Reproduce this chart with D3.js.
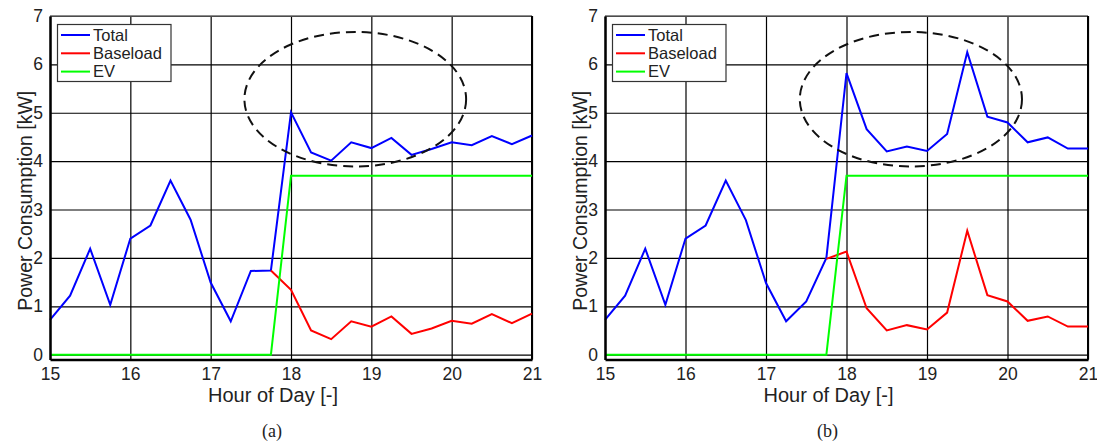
<!DOCTYPE html>
<html>
<head>
<meta charset="utf-8">
<script src="https://cdn.jsdelivr.net/npm/d3@7"></script>
<style>
  body { margin: 0; background: #fff; }
  text { font-family: "Liberation Sans", Arial, sans-serif; fill: #222; }
  .caption { font-family: "Liberation Serif", "Times New Roman", serif; }
</style>
</head>
<body>
<div class="chart"></div>
<script>
// two panels: (a) uncoordinated charging, (b) shifted baseload

var hours = [15, 15.25, 15.5, 15.75, 16, 16.25, 16.5, 16.75, 17, 17.25, 17.5, 17.75,
  18, 18.25, 18.5, 18.75, 19, 19.25, 19.5, 19.75, 20, 20.25, 20.5, 20.75, 21];

// baseload is only plotted from 17.75 on (below that it equals the total)
var baseHours = [17.75, 18, 18.25, 18.5, 18.75, 19, 19.25, 19.5, 19.75, 20, 20.25, 20.5, 20.75, 21];

var totalA = [0.72, 1.22, 2.19, 1.03, 2.40, 2.67, 3.60, 2.79, 1.49, 0.69, 1.73, 1.74,
  5.01, 4.18, 4.01, 4.39, 4.27, 4.48, 4.13, 4.25, 4.39, 4.33, 4.52, 4.35, 4.53];
var baseA = [1.74, 1.34, 0.50, 0.32, 0.69, 0.58, 0.79, 0.43, 0.54, 0.70, 0.64, 0.84, 0.65, 0.85];

var totalB = [0.72, 1.22, 2.19, 1.03, 2.40, 2.67, 3.60, 2.78, 1.48, 0.69, 1.10, 2.00,
  5.82, 4.66, 4.20, 4.30, 4.21, 4.56, 6.25, 4.92, 4.80, 4.39, 4.49, 4.26, 4.26];
var baseB = [1.98, 2.13, 0.96, 0.50, 0.61, 0.52, 0.87, 2.56, 1.23, 1.10, 0.70, 0.79, 0.58, 0.58];

var ev = [0, 0, 0, 0, 0, 0, 0, 0, 0, 0, 0, 0,
  3.7, 3.7, 3.7, 3.7, 3.7, 3.7, 3.7, 3.7, 3.7, 3.7, 3.7, 3.7, 3.7];

var xTicks = [15, 16, 17, 18, 19, 20, 21];
var yTicks = [0, 1, 2, 3, 4, 5, 6, 7];

// dashed ellipse (centre hour, centre kW, half width in hours, half height in kW)
var ellipse = [18.8, 5.28, 1.38, 1.39];

var legendNames = ["Total", "Baseload", "EV"];
var colors = ["#0000ff", "#ff0000", "#00ff00"];

var svgWidth = 1097;
var svgHeight = 441;

var svg = d3.select(".chart")
  .append("svg")
  .attr("width", svgWidth)
  .attr("height", svgHeight);

var plotTop = 16;
var plotBottom = 359.5;

function drawPanel(left, right, total, base, caption) {
  var x = d3.scaleLinear().domain([15, 21]).range([left, right]);
  var y = d3.scaleLinear().domain([-0.1, 7]).range([plotBottom, plotTop]);
  var w = right - left;
  var h = plotBottom - plotTop;

  var g = svg.append("g");

  // grid lines
  g.append("g")
    .attr("transform", `translate(0, ${plotBottom})`)
    .call(d3.axisBottom(x).tickValues(xTicks).tickSize(-h).tickFormat(""))
    .call(a => a.select(".domain").remove())
    .selectAll("line").attr("stroke", "#000").attr("stroke-width", 1.2);

  g.append("g")
    .attr("transform", `translate(${left}, 0)`)
    .call(d3.axisLeft(y).tickValues(yTicks).tickSize(-w).tickFormat(""))
    .call(a => a.select(".domain").remove())
    .selectAll("line").attr("stroke", "#000").attr("stroke-width", 1.2);

  // top / right box
  g.append("line")
    .attr("x1", left).attr("x2", right).attr("y1", plotTop).attr("y2", plotTop)
    .attr("stroke", "#666").attr("stroke-width", 1.5);
  g.append("line")
    .attr("x1", right).attr("x2", right).attr("y1", plotTop).attr("y2", plotBottom)
    .attr("stroke", "#000").attr("stroke-width", 2);

  var line = d3.line().x(d => x(d[0])).y(d => y(d[1]));

  g.append("path")
    .datum(hours.map((t, i) => [t, total[i]]))
    .attr("d", line)
    .attr("fill", "none").attr("stroke", colors[0]).attr("stroke-width", 2);

  g.append("path")
    .datum(baseHours.map((t, i) => [t, base[i]]))
    .attr("d", line)
    .attr("fill", "none").attr("stroke", colors[1]).attr("stroke-width", 2);

  g.append("path")
    .datum(hours.map((t, i) => [t, ev[i]]))
    .attr("d", line)
    .attr("fill", "none").attr("stroke", colors[2]).attr("stroke-width", 2);

  // ellipse
  g.append("ellipse")
    .attr("cx", x(ellipse[0]))
    .attr("cy", y(ellipse[1]))
    .attr("rx", x(ellipse[0] + ellipse[2]) - x(ellipse[0]))
    .attr("ry", y(ellipse[1]) - y(ellipse[1] + ellipse[3]))
    .attr("fill", "none")
    .attr("stroke", "#111")
    .attr("stroke-width", 2)
    .attr("stroke-dasharray", "10,6");

  // axes with labels
  var xAxis = g.append("g")
    .attr("transform", `translate(0, ${plotBottom})`)
    .call(d3.axisBottom(x).tickValues(xTicks).tickFormat(d3.format("d")).tickSize(0).tickPadding(8));
  xAxis.select(".domain").attr("stroke", "#000").attr("stroke-width", 2.5);
  xAxis.selectAll("text").style("font-size", "17.5px").attr("fill", "#222");

  var yAxis = g.append("g")
    .attr("transform", `translate(${left}, 0)`)
    .call(d3.axisLeft(y).tickValues(yTicks).tickFormat(d3.format("d")).tickSize(0).tickPadding(7));
  yAxis.select(".domain").attr("stroke", "#000").attr("stroke-width", 2.5);
  yAxis.selectAll("text").style("font-size", "17.5px").attr("fill", "#222");

  // axis titles
  g.append("text")
    .attr("x", (left + right) / 2 - 18)
    .attr("y", 401.5)
    .attr("text-anchor", "middle")
    .style("font-size", "20px")
    .text("Hour of Day [-]");

  g.append("text")
    .attr("transform", `translate(${left - 18}, ${(plotTop + plotBottom) / 2 + 13}) rotate(-90)`)
    .attr("text-anchor", "middle")
    .style("font-size", "19.5px")
    .text("Power Consumption [kW]");

  // caption
  g.append("text")
    .attr("class", "caption")
    .attr("x", (left + right) / 2 - 19)
    .attr("y", 437)
    .attr("text-anchor", "middle")
    .style("font-size", "18px")
    .text(caption);

  // legend
  var lg = g.append("g").attr("transform", `translate(${left + 7.5}, 24.5)`);
  lg.append("rect")
    .attr("width", 113.5).attr("height", 57)
    .attr("fill", "#fff").attr("stroke", "#333").attr("stroke-width", 1.2);
  legendNames.forEach(function(name, i) {
    var ly = 10.5 + i * 18.3;
    lg.append("line")
      .attr("x1", 3.5).attr("x2", 32.5).attr("y1", ly).attr("y2", ly)
      .attr("stroke", colors[i]).attr("stroke-width", 2);
    lg.append("text")
      .attr("x", 35.5).attr("y", ly + 5.5)
      .style("font-size", "16.5px")
      .text(name);
  });
}

drawPanel(50, 532, totalA, baseA, "(a)");
drawPanel(605, 1088, totalB, baseB, "(b)");
</script>
</body>
</html>
